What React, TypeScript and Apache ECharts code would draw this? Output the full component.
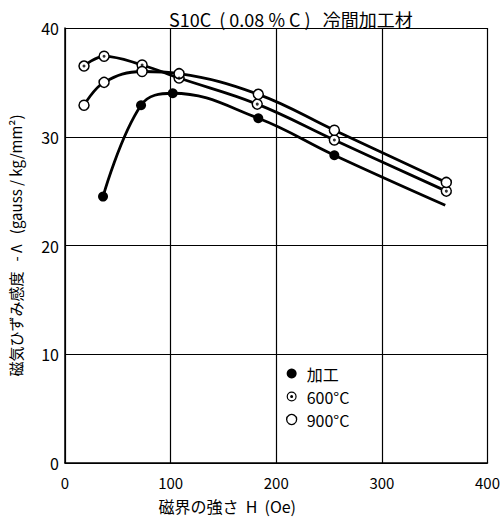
import React, { useEffect, useRef } from "react";
import * as echarts from "echarts";

// Magnetic field strength H (Oe) and magnetostrictive sensitivity -Λ for each condition
const hWorked = [36, 72, 102, 183, 255, 360];
const lambdaWorked = [24.5, 32.9, 34.0, 31.7, 28.3, 23.7];

const h600 = [18, 37, 73, 108, 182, 255, 361];
const lambda600 = [36.5, 37.4, 36.6, 35.4, 33.0, 29.7, 25.0];

const h900 = [18, 37, 73, 108, 183, 255, 361];
const lambda900 = [32.9, 35.0, 36.0, 35.8, 33.9, 30.6, 25.8];

const seriesNames = ["加工", "600°C", "900°C"];
const xTicks = [0, 100, 200, 300, 400];
const yTicks = [0, 10, 20, 30, 40];

const FONT = "'Noto Sans CJK JP', 'Noto Sans', sans-serif";

// ring with a centre dot (⊙) legend glyph
const RING_DOT =
  "path://M10,0A10,10,0,1,1,10,20A10,10,0,1,1,10,0Z M10,2.4A7.6,7.6,0,1,0,10,17.6A7.6,7.6,0,1,0,10,2.4Z M10,7A3,3,0,1,1,10,13A3,3,0,1,1,10,7Z";

const zip = (xs: number[], ys: number[]) => xs.map((x, i) => [x, ys[i]]);

export default function App() {
  const ref = useRef<HTMLDivElement>(null);

  useEffect(() => {
    if (!ref.current) return;
    const chart = echarts.init(ref.current, null, { renderer: "svg" });

    const workedData = zip(hWorked, lambdaWorked).map((p, i, arr) =>
      i === arr.length - 1 ? { value: p, symbol: "none" } : { value: p }
    );

    const hollow = {
      color: "#fff",
      borderColor: "#000",
      borderWidth: 1.5,
    };

    chart.setOption({
      animation: false,
      backgroundColor: "#fff",
      title: {
        text: "S10C  ( 0.08 % C )   冷間加工材",
        left: 164,
        top: 5,
        textStyle: {
          fontFamily: FONT,
          fontSize: 18,
          fontWeight: "normal",
          color: "#000",
        },
      },
      grid: { left: 60, right: 15, top: 28, bottom: 62 },
      legend: {
        orient: "vertical",
        left: 281,
        top: 360,
        itemWidth: 10,
        itemHeight: 10,
        itemGap: 6,
        textStyle: {
          fontFamily: FONT,
          fontSize: 16,
          color: "#000",
          lineHeight: 17,
          padding: [0, 0, 0, 5],
        },
        data: [
          { name: seriesNames[0], icon: "circle", itemStyle: { color: "#000", borderWidth: 0 } },
          { name: seriesNames[1], icon: RING_DOT, itemStyle: { color: "#000", borderWidth: 0 } },
          {
            name: seriesNames[2],
            icon: "circle",
            itemStyle: { color: "#fff", borderColor: "#000", borderWidth: 1.3 },
          },
        ],
      },
      xAxis: {
        type: "value",
        min: xTicks[0],
        max: xTicks[xTicks.length - 1],
        interval: 100,
        name: "磁界の強さ  H  (Oe)",
        nameLocation: "middle",
        nameGap: 35,
        nameTextStyle: {
          fontFamily: FONT,
          fontSize: 16,
          color: "#000",
          padding: [0, 98, 0, 0],
        },
        axisLine: { show: true, lineStyle: { color: "#000", width: 1.5 } },
        axisTick: { show: false },
        axisLabel: { fontFamily: FONT, fontSize: 15, color: "#000", margin: 12 },
        splitLine: { show: true, lineStyle: { color: "#000", width: 1.2 } },
      },
      yAxis: {
        type: "value",
        min: yTicks[0],
        max: yTicks[yTicks.length - 1],
        interval: 10,
        name: "磁気ひずみ感度   - Λ   (gauss / kg/mm²)",
        nameLocation: "middle",
        nameGap: 42,
        nameTextStyle: { fontFamily: FONT, fontSize: 15, color: "#000" },
        axisLine: { show: true, lineStyle: { color: "#000", width: 1.5 } },
        axisTick: { show: false },
        axisLabel: { fontFamily: FONT, fontSize: 16, color: "#000", margin: 6 },
        splitLine: { show: true, lineStyle: { color: "#000", width: 1.2 } },
      },
      series: [
        {
          name: seriesNames[0],
          type: "line",
          smooth: 0.4,
          data: workedData,
          symbol: "circle",
          symbolSize: 10,
          itemStyle: { color: "#000" },
          lineStyle: { color: "#000", width: 2.8 },
          z: 3,
        },
        {
          name: seriesNames[1],
          type: "line",
          smooth: 0.4,
          data: zip(h600, lambda600),
          symbol: "circle",
          symbolSize: 10,
          itemStyle: hollow,
          lineStyle: { color: "#000", width: 2.8 },
          z: 3,
        },
        {
          name: "600°C ·",
          type: "scatter",
          data: zip(h600, lambda600),
          symbol: "circle",
          symbolSize: 3,
          itemStyle: { color: "#000" },
          silent: true,
          z: 5,
        },
        {
          name: seriesNames[2],
          type: "line",
          smooth: 0.4,
          data: zip(h900, lambda900),
          symbol: "circle",
          symbolSize: 10,
          itemStyle: hollow,
          lineStyle: { color: "#000", width: 2.8 },
          z: 4,
        },
      ],
    });

    return () => chart.dispose();
  }, []);

  return (
    <div
      ref={ref}
      style={{ position: "absolute", left: 0, top: 0, width: 503, height: 525 }}
    />
  );
}
